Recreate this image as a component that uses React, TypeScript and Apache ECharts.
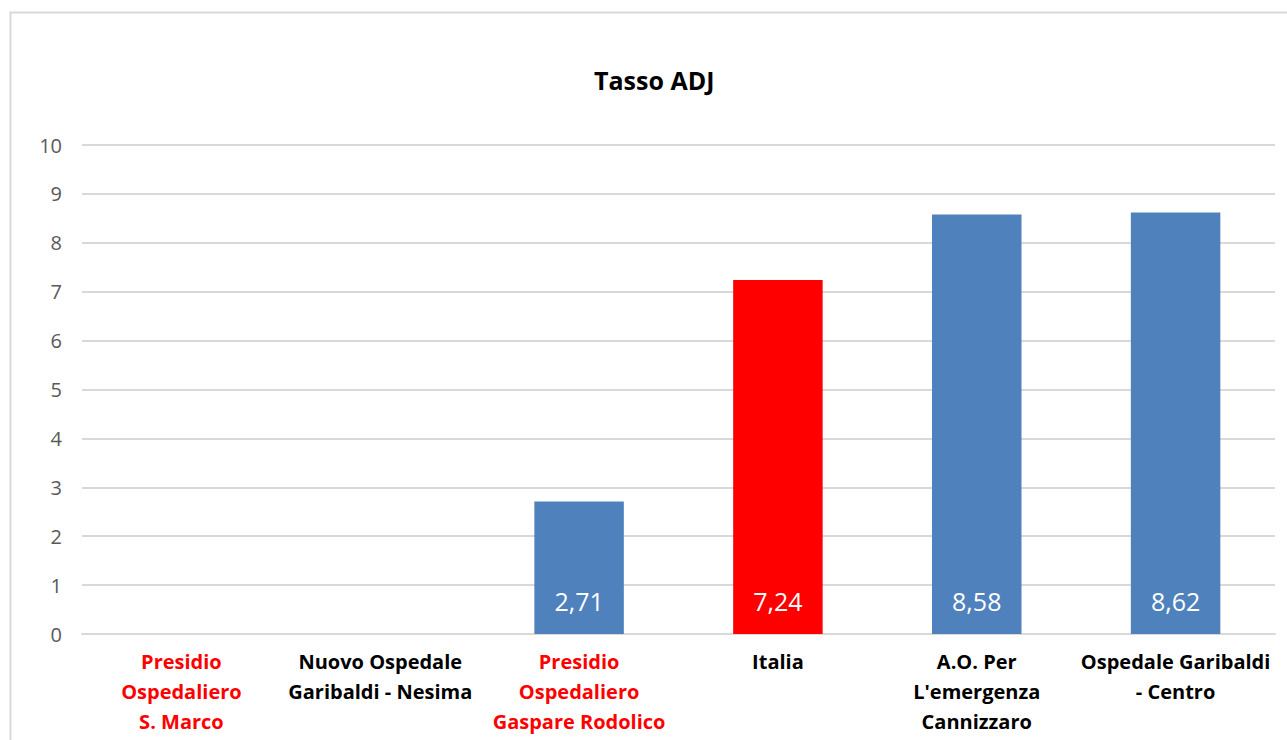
import React, { useEffect, useRef } from "react";
import * as echarts from "echarts";

const categories = [
  "Presidio\nOspedaliero\nS. Marco",
  "Nuovo Ospedale\nGaribaldi - Nesima",
  "Presidio\nOspedaliero\nGaspare Rodolico",
  "Italia",
  "A.O. Per\nL'emergenza\nCannizzaro",
  "Ospedale Garibaldi\n- Centro",
];
const values = [0, 0, 2.71, 7.24, 8.58, 8.62];
const barColors = ["#4F81BD", "#4F81BD", "#4F81BD", "#FF0000", "#4F81BD", "#4F81BD"];
const labelColors = ["#FF0000", "#000000", "#FF0000", "#000000", "#000000", "#000000"];

const FONT = "'Open Sans', sans-serif";

export default function App() {
  const ref = useRef<HTMLDivElement>(null);
  useEffect(() => {
    if (!ref.current) return;
    const chart = echarts.init(ref.current, null, { renderer: "svg" });
    chart.setOption({
      animation: false,
      backgroundColor: "#ffffff",
      textStyle: { fontFamily: FONT },
      graphic: [
        {
          type: "rect",
          shape: { x: 10.5, y: 12.5, width: 1300, height: 800 },
          style: { fill: "none", stroke: "#d9d9d9", lineWidth: 2 },
          silent: true,
        },
      ],
      title: {
        text: "Tasso ADJ",
        left: 589,
        top: 62,
        textStyle: { fontSize: 25, fontWeight: "bold", color: "#000", fontFamily: FONT },
      },
      grid: { left: 82, right: 12, top: 145, bottom: 106, containLabel: false },
      xAxis: {
        type: "category",
        data: categories,
        axisLine: { show: true, lineStyle: { color: "#d9d9d9", width: 2 } },
        axisTick: { show: false },
        axisLabel: {
          interval: 0,
          margin: 12,
          fontSize: 20,
          fontWeight: "bold",
          lineHeight: 30,
          align: "center",
          fontFamily: FONT,
          color: (v: string, i: number) => labelColors[i],
        },
      },
      yAxis: {
        type: "value",
        min: 0,
        max: 10,
        interval: 1,
        axisLine: { show: false },
        axisTick: { show: false },
        splitLine: { lineStyle: { color: "#d9d9d9", width: 2 } },
        axisLabel: { fontSize: 20, color: "#595959", margin: 20, fontFamily: FONT },
      },
      series: [
        {
          type: "bar",
          data: values.map((v, i) => ({ value: v, itemStyle: { color: barColors[i] } })),
          barWidth: "45%",
          label: {
            show: true,
            position: "insideBottom",
            distance: 21,
            color: "#ffffff",
            fontSize: 25,
            fontFamily: FONT,
            formatter: (p: any) => (p.value ? p.value.toFixed(2).replace(".", ",") : ""),
          },
        },
      ],
    });
    return () => chart.dispose();
  }, []);
  return (
    <div
      ref={ref}
      style={{ position: "fixed", left: 0, top: 0, width: 1287, height: 740 }}
    />
  );
}
